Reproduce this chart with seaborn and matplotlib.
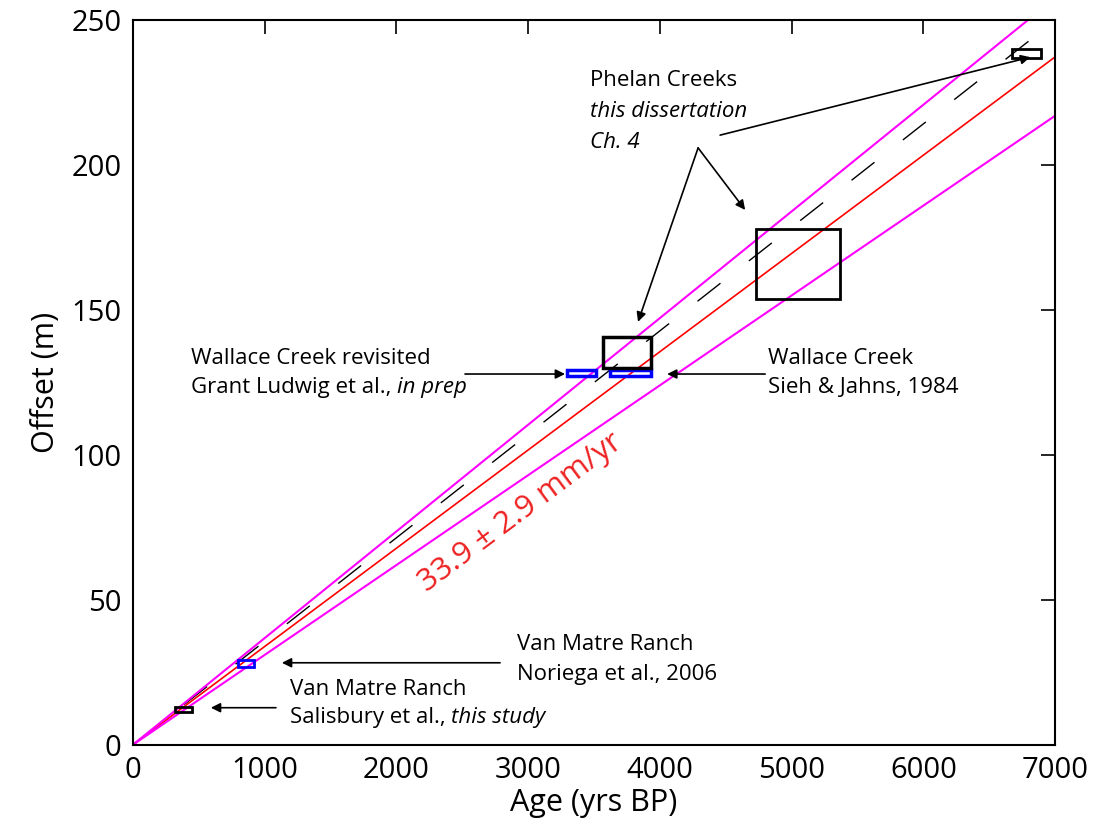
import numpy as np
import matplotlib
matplotlib.use("Agg")
import matplotlib.pyplot as plt
from matplotlib.patches import Rectangle
import seaborn as sns
import pandas as pd

# rate fits (mm/yr = m/kyr)
rate = 33.9
rate_err = 2.9
rate_dashed = 35.7
age_range = [0, 7000]

# offset boxes: age min/max, offset min/max, colour
box_age_min = [320, 800, 3295, 3620, 3570, 4730, 6675]
box_age_max = [450, 920, 3515, 3935, 3935, 5370, 6895]
box_off_min = [11.4, 26.9, 127.2, 127.2, 130.0, 153.8, 236.9]
box_off_max = [13.1, 29.3, 129.3, 129.3, 140.7, 177.9, 240.0]
box_color = ["black", "blue", "blue", "blue", "black", "black", "black"]
box_lw = [2, 2, 2.5, 2.5, 2.5, 2, 2]

sns.set_style("white")
plt.rcParams['font.family'] = ['Open Sans', 'DejaVu Sans']
for k in ['text.color', 'axes.labelcolor', 'xtick.color', 'ytick.color']:
    plt.rcParams[k] = 'black'

fig = plt.figure(figsize=(10.98, 8.35), dpi=100)
ax = fig.add_axes([0.121, 0.108, 0.840, 0.868])

ages = np.array(age_range, dtype=float)
lines = pd.DataFrame({
    "age": np.concatenate([ages] * 4),
    "offset": np.concatenate([ages * rate / 1000, ages * (rate + rate_err) / 1000,
                              ages * (rate - rate_err) / 1000, ages * rate_dashed / 1000]),
    "fit": ["best"] * 2 + ["upper"] * 2 + ["lower"] * 2 + ["dashed"] * 2,
})
sns.lineplot(data=lines[lines.fit == "dashed"], x="age", y="offset", color="black",
             lw=1, ax=ax, dashes=False, linestyle=(0, (21, 26)))
sns.lineplot(data=lines[lines.fit == "best"], x="age", y="offset", color="red", lw=1.2, ax=ax)
sns.lineplot(data=lines[lines.fit == "upper"], x="age", y="offset", color="#ff00ff", lw=1.5, ax=ax)
sns.lineplot(data=lines[lines.fit == "lower"], x="age", y="offset", color="#ff00ff", lw=1.5, ax=ax)

for a0, a1, o0, o1, c, lw in zip(box_age_min, box_age_max, box_off_min, box_off_max, box_color, box_lw):
    ax.add_patch(Rectangle((a0, o0), a1 - a0, o1 - o0, fill=False, ec=c, lw=lw, zorder=5))

ax.set_xlim(0, 7000)
ax.set_ylim(0, 250)
ax.set_xticks(range(0, 7001, 1000))
ax.set_yticks(range(0, 251, 50))
ax.tick_params(direction="in", length=10, width=1.2, labelsize=21, top=True, right=True, pad=8)
for s in ax.spines.values():
    s.set_linewidth(1.5)
    s.set_color("black")
ax.set_xlabel("Age (yrs BP)", fontsize=22, labelpad=2)
ax.set_ylabel("Offset (m)", fontsize=22, labelpad=8)

fs = 16
arr = dict(arrowstyle="-|>", color="black", lw=1.2, mutation_scale=14, shrinkA=0, shrinkB=0)


def two_part(x, y, plain, ital):
    t = ax.text(x, y, plain, fontsize=fs, va="center")
    ax.annotate(ital, xy=(1, 0.5), xycoords=t, va="center", ha="left",
                fontsize=fs, style="italic")


ax.text(3470, 229.3, "Phelan Creeks", fontsize=fs, va="center")
ax.text(3470, 218.6, "this dissertation", fontsize=fs, va="center", style="italic")
ax.text(3470, 207.9, "Ch. 4", fontsize=fs, va="center", style="italic")
ax.annotate("", xy=(3834, 145.9), xytext=(4290, 205.9), arrowprops=arr)
ax.annotate("", xy=(4647, 184.5), xytext=(4290, 205.9), arrowprops=arr)
ax.annotate("", xy=(6811, 237.2), xytext=(4457, 210.3), arrowprops=arr)

ax.text(440, 133.4, "Wallace Creek revisited", fontsize=fs, va="center")
two_part(440, 123.1, "Grant Ludwig et al., ", "in prep")
ax.annotate("", xy=(3280, 127.9), xytext=(2521, 127.9), arrowprops=arr)

ax.text(4822, 133.4, "Wallace Creek", fontsize=fs, va="center")
ax.text(4822, 123.1, "Sieh & Jahns, 1984", fontsize=fs, va="center")
ax.annotate("", xy=(4055, 127.9), xytext=(4799, 127.9), arrowprops=arr)

ax.text(2916, 34.5, "Van Matre Ranch", fontsize=fs, va="center")
ax.text(2916, 24.1, "Noriega et al., 2006", fontsize=fs, va="center")
ax.annotate("", xy=(1131, 28.3), xytext=(2787, 28.3), arrowprops=arr)

ax.text(1192, 19.0, "Van Matre Ranch", fontsize=fs, va="center")
two_part(1192, 9.3, "Salisbury et al., ", "this study")
ax.annotate("", xy=(592, 12.8), xytext=(1086, 12.8), arrowprops=arr)

ax.text(2945, 80, "33.9 ± 2.9 mm/yr", fontsize=22.5, color="#ee2222", rotation=36.7,
        ha="center", va="center", rotation_mode="anchor")

fig.savefig("out.png", dpi=100)
